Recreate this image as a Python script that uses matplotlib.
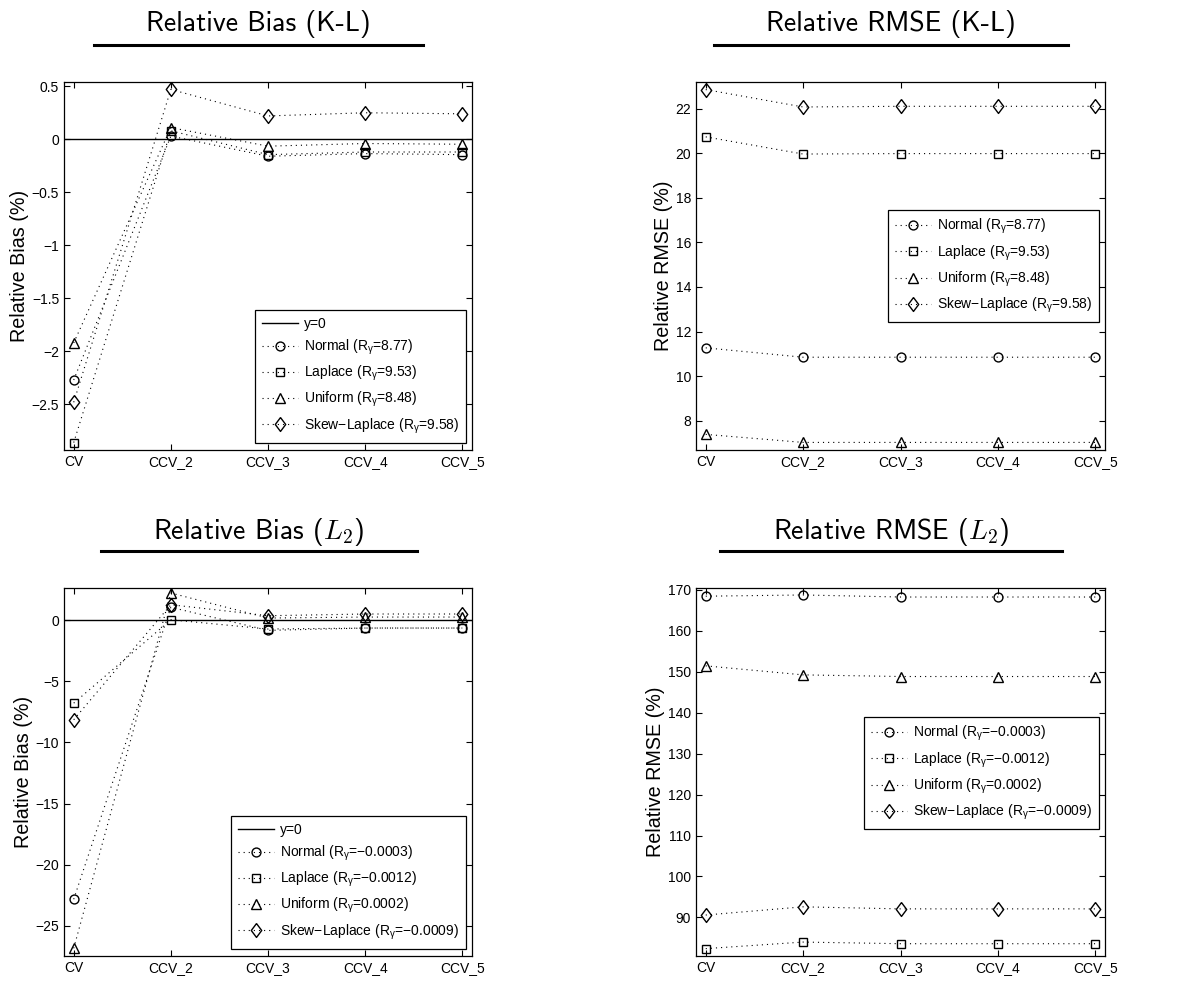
import matplotlib
matplotlib.use('Agg')
import matplotlib.pyplot as plt
from matplotlib.lines import Line2D
from matplotlib.ticker import FuncFormatter

plt.rcParams['font.family'] = ['Liberation Sans', 'DejaVu Sans']
plt.rcParams['mathtext.fontset'] = 'custom'
plt.rcParams['mathtext.rm'] = 'Liberation Sans'
plt.rcParams['mathtext.it'] = 'Liberation Sans:italic'

cats = ['CV', 'CCV_2', 'CCV_3', 'CCV_4', 'CCV_5']
names = ['Normal', 'Laplace', 'Uniform', 'Skew\u2212Laplace']
r_kl = ['8.77', '9.53', '8.48', '9.58']
r_l2 = ['\u22120.0003', '\u22120.0012', '0.0002', '\u22120.0009']

# Relative bias (K-L)
bias_kl_normal = [-2.27, 0.03, -0.16, -0.135, -0.145]
bias_kl_laplace = [-2.86, 0.08, -0.145, -0.12, -0.12]
bias_kl_uniform = [-1.92, 0.11, -0.065, -0.04, -0.047]
bias_kl_skew = [-2.48, 0.47, 0.22, 0.25, 0.24]

# Relative RMSE (K-L)
rmse_kl_normal = [11.27, 10.85, 10.85, 10.85, 10.85]
rmse_kl_laplace = [20.73, 19.96, 19.98, 19.98, 19.98]
rmse_kl_uniform = [7.39, 7.03, 7.03, 7.03, 7.03]
rmse_kl_skew = [22.85, 22.07, 22.1, 22.1, 22.1]

# Relative bias (L2)
bias_l2_normal = [-22.84, 1.07, -0.82, -0.63, -0.63]
bias_l2_laplace = [-6.78, 0.05, -0.71, -0.63, -0.63]
bias_l2_uniform = [-26.86, 2.24, 0.19, 0.27, 0.27]
bias_l2_skew = [-8.14, 1.28, 0.38, 0.52, 0.52]

# Relative RMSE (L2)
rmse_l2_normal = [168.4, 168.7, 168.2, 168.2, 168.2]
rmse_l2_laplace = [82.4, 84.0, 83.6, 83.6, 83.6]
rmse_l2_uniform = [151.4, 149.2, 148.8, 148.8, 148.8]
rmse_l2_skew = [90.6, 92.6, 92.1, 92.1, 92.1]

diamond = [(0, 1), (0.75, 0), (0, -1), (-0.75, 0), (0, 1)]
markers = [('o', 6.4), ('s', 5.6), ('^', 6.8), (diamond, 10)]
W, H = 1199, 983
fig = plt.figure(figsize=(W / 100, H / 100), dpi=100)
gfmt = FuncFormatter(lambda v, p: ('%g' % v).replace('-', '\u2212'))


def panel(rect, series, rvals, zero_line, ylim, yticks, ylabel, legloc, leganchor):
    ax = fig.add_axes(rect)
    x = list(range(1, len(cats) + 1))
    if zero_line:
        ax.axhline(0, color='k', lw=1.0, label='y=0')
    for s, (m, ms), nm, r in zip(series, markers, names, rvals):
        ax.plot(x, s, color='k', lw=0.8, dashes=(1, 3.6), marker=m, ms=ms,
                mfc='none', mec='k', mew=1.0,
                label=nm + ' (R$_{\\mathrm{\u03b3}}$=' + r + ')')
    ax.set_xlim(0.9, 5.1)
    ax.set_ylim(*ylim)
    ax.set_xticks(x)
    ax.set_xticklabels(cats)
    ax.set_yticks(yticks)
    ax.yaxis.set_major_formatter(gfmt)
    ax.tick_params(direction='in', top=True, right=True, length=4, labelsize=10, width=0.8)
    ax.set_ylabel(ylabel, fontsize=14.2, labelpad=2)
    for sp in ax.spines.values():
        sp.set_linewidth(0.9)
    leg = ax.legend(loc=legloc, bbox_to_anchor=leganchor, fontsize=10, fancybox=False,
                    framealpha=1, edgecolor='k', handlelength=2.6, handletextpad=0.4,
                    labelspacing=0.5, borderpad=0.5, borderaxespad=0)
    leg.get_frame().set_linewidth(0.9)
    return ax


def title(text, cx, ty, ly, x0, x1):
    fig.text(cx / W, 1 - ty / H, text, ha='center', va='center', fontsize=20,
             family='cmss10', math_fontfamily='cm')
    fig.add_artist(Line2D([x0 / W, x1 / W], [1 - ly / H, 1 - ly / H], color='k', lw=2.2))


aw, ah = 408 / W, 368 / H
panel([64 / W, 1 - 450 / H, aw, ah],
      [bias_kl_normal, bias_kl_laplace, bias_kl_uniform, bias_kl_skew], r_kl, True,
      (-2.93, 0.54), [-2.5, -2, -1.5, -1, -0.5, 0, 0.5], 'Relative Bias (%)',
      'lower right', (0.985, 0.02))
panel([696 / W, 1 - 450 / H, 409 / W, ah],
      [rmse_kl_normal, rmse_kl_laplace, rmse_kl_uniform, rmse_kl_skew], r_kl, False,
      (6.69, 23.19), [8, 10, 12, 14, 16, 18, 20, 22], 'Relative RMSE (%)',
      'upper right', (0.985, 0.652))
panel([64 / W, 1 - 956 / H, aw, ah],
      [bias_l2_normal, bias_l2_laplace, bias_l2_uniform, bias_l2_skew], r_l2, True,
      (-27.49, 2.65), [-25, -20, -15, -10, -5, 0], 'Relative Bias (%)',
      'lower right', (0.985, 0.02))
panel([696 / W, 1 - 956 / H, 409 / W, ah],
      [rmse_l2_normal, rmse_l2_laplace, rmse_l2_uniform, rmse_l2_skew], r_l2, False,
      (80.6, 170.4), [90, 100, 110, 120, 130, 140, 150, 160, 170], 'Relative RMSE (%)',
      'upper right', (0.985, 0.649))

title('Relative Bias (K-L)', 258.5, 24, 45, 94, 423)
title('Relative RMSE (K-L)', 891, 24, 45, 714, 1068)
title('Relative Bias ($L_2$)', 259, 532, 551, 101, 417)
title('Relative RMSE ($L_2$)', 891, 532, 551, 720, 1062)

fig.savefig('out.png', dpi=100)
